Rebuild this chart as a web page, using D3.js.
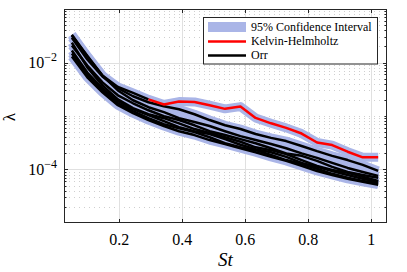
<!DOCTYPE html>
<html><head><meta charset="utf-8">
<script src="https://cdn.jsdelivr.net/npm/d3@7"></script>
<style>
html,body{margin:0;padding:0;background:#fff;}
svg{display:block;}
text{font-family:"Liberation Serif","DejaVu Serif",serif;fill:#000;}
</style></head>
<body><svg id="c" width="407" height="272"></svg>
<script>
// Strouhal numbers (x)
const St = [0.050,0.099,0.147,0.196,0.244,0.293,0.342,0.390,0.439,0.487,0.536,0.585,0.633,0.682,0.730,0.779,0.828,0.876,0.925,0.973,1.022];
// Kelvin-Helmholtz branch (black before index khRedStart, red from there on)
const khLambda = [3.18e-2,1.33e-2,5.7e-3,3.5e-3,2.7e-3,2.05e-3,1.64e-3,1.86e-3,1.83e-3,1.59e-3,1.36e-3,1.50e-3,9.2e-4,7.3e-4,6.0e-4,4.7e-4,3.2e-4,2.86e-4,2.15e-4,1.69e-4,1.69e-4];
const khRedStart = 5;
// Orr branches
const orr1 = [2.9e-2,1.14e-2,5.5e-3,3.3e-3,2.34e-3,1.81e-3,1.52e-3,1.34e-3,1.08e-3,8.4e-4,6.7e-4,5.7e-4,4.6e-4,3.9e-4,3.4e-4,2.75e-4,2.2e-4,1.8e-4,1.5e-4,1.22e-4,9.4e-5];
const orr2 = [3.31e-2,1.29e-2,5.7e-3,3.0e-3,1.97e-3,1.46e-3,1.18e-3,9.1e-4,7.7e-4,6.5e-4,5.2e-4,4.2e-4,3.55e-4,3.0e-4,2.5e-4,2.0e-4,1.65e-4,1.33e-4,1.07e-4,9.0e-5,7.6e-5];
const orr3 = [2.07e-2,8.8e-3,4.25e-3,2.44e-3,1.73e-3,1.28e-3,9.9e-4,8.4e-4,6.7e-4,5.2e-4,4.4e-4,3.7e-4,3.1e-4,2.5e-4,2.0e-4,1.8e-4,1.45e-4,1.12e-4,9.0e-5,7.9e-5,7.0e-5];
const orr4 = [2.35e-2,8.1e-3,3.74e-3,2.05e-3,1.40e-3,1.08e-3,9.1e-4,7.3e-4,5.7e-4,4.8e-4,4.0e-4,3.3e-4,2.6e-4,2.3e-4,1.95e-4,1.5e-4,1.17e-4,9.8e-5,8.7e-5,7.3e-5,6.1e-5];
const orr5 = [1.67e-2,6.5e-3,3.3e-3,1.89e-3,1.34e-3,1.04e-3,8.0e-4,6.2e-4,5.2e-4,4.6e-4,3.7e-4,2.9e-4,2.4e-4,2.1e-4,1.72e-4,1.33e-4,1.12e-4,9.4e-5,7.9e-5,6.7e-5,5.9e-5];
const orr6 = [1.47e-2,6.0e-3,3.0e-3,1.73e-3,1.23e-3,9.1e-4,7.0e-4,5.9e-4,5.0e-4,4.0e-4,3.1e-4,2.6e-4,2.3e-4,1.87e-4,1.5e-4,1.27e-4,1.03e-4,8.3e-5,7.0e-5,6.1e-5,5.6e-5];
const orr7 = [1.29e-2,5.3e-3,2.77e-3,1.59e-3,1.13e-3,8.4e-4,6.5e-4,5.2e-4,4.4e-4,3.55e-4,3.0e-4,2.5e-4,2.1e-4,1.72e-4,1.45e-4,1.17e-4,9.4e-5,7.9e-5,6.7e-5,5.9e-5,5.2e-5];
const orrSeries = [orr1,orr2,orr3,orr4,orr5,orr6,orr7];
// ticks
const xTicks = [0.2,0.4,0.6,0.8,1.0];
const xTickLabels = ["0.2","0.4","0.6","0.8","1"];
const yMajor = [1e-2,1e-4];
const yMajorExp = ["\u22122","\u22124"];
const legendLabels = ["95% Confidence Interval","Kelvin-Helmholtz","Orr"];

const L=64,R=387,T=9,B=223;
const svg=d3.select("#c");
const x=d3.scaleLinear().domain([0.025,1.05]).range([L,R]);
const y=d3.scaleLog().domain([1e-5,1e-1]).range([B,T]);

// minor y grid
const minor=[];
for(let e=-5;e<-1;e++){for(let m=1;m<10;m++){const v=m*Math.pow(10,e); if(!(m===1&&(e===-2||e===-4))&&v>1e-5) minor.push(v);}}
svg.append("g").selectAll("line").data(minor).join("line")
 .attr("x1",L).attr("x2",R).attr("y1",d=>Math.round(y(d))+0.5).attr("y2",d=>Math.round(y(d))+0.5)
 .attr("stroke","#cfcfcf").attr("stroke-width",1).attr("stroke-dasharray","1,4");
// major grid
svg.append("g").selectAll("line").data(xTicks).join("line")
 .attr("x1",d=>Math.round(x(d))+0.5).attr("x2",d=>Math.round(x(d))+0.5).attr("y1",T).attr("y2",B)
 .attr("stroke","#e0e0e0").attr("stroke-width",1);
svg.append("g").selectAll("line").data(yMajor).join("line")
 .attr("x1",L).attr("x2",R).attr("y1",d=>Math.round(y(d))+0.5).attr("y2",d=>Math.round(y(d))+0.5)
 .attr("stroke","#e0e0e0").attr("stroke-width",1);

const line=d3.line().x(d=>x(d[0])).y(d=>y(d[1]));
const pts=arr=>arr.map((v,i)=>[St[i],v]);
const bandColor="#aab5e7";
const allSeries=[...orrSeries,khLambda];
const gBand=svg.append("g");
allSeries.forEach(s=>gBand.append("path").attr("d",line(pts(s))).attr("fill","none")
 .attr("stroke",bandColor).attr("stroke-width",9).attr("stroke-linejoin","round").attr("stroke-linecap","butt"));
const gLine=svg.append("g");
orrSeries.forEach(s=>gLine.append("path").attr("d",line(pts(s))).attr("fill","none")
 .attr("stroke","#000").attr("stroke-width",2.5).attr("stroke-linejoin","round"));
gLine.append("path").attr("d",line(pts(khLambda).slice(0,khRedStart+1))).attr("fill","none")
 .attr("stroke","#000").attr("stroke-width",2.5).attr("stroke-linejoin","round");
gLine.append("path").attr("d",line(pts(khLambda).slice(khRedStart))).attr("fill","none")
 .attr("stroke","#ff0000").attr("stroke-width",2.5).attr("stroke-linejoin","round");

// box
const axC="#262626";
svg.append("rect").attr("x",L+0.5).attr("y",T+0.5).attr("width",R-L-1).attr("height",B-T-1)
 .attr("fill","none").attr("stroke",axC).attr("stroke-width",1);
// x ticks (bottom & top, inward)
const gx=svg.append("g");
xTicks.forEach(t=>{const px=Math.round(x(t))+0.5;
 gx.append("line").attr("x1",px).attr("x2",px).attr("y1",B).attr("y2",B-4).attr("stroke",axC);
 gx.append("line").attr("x1",px).attr("x2",px).attr("y1",T).attr("y2",T+4).attr("stroke",axC);});
gx.selectAll("text").data(xTicks).join("text").attr("x",d=>x(d)).attr("y",245)
 .attr("text-anchor","middle").attr("font-size",16).text((d,i)=>xTickLabels[i]);
// y ticks
const gy=svg.append("g");
yMajor.forEach(t=>{const py=Math.round(y(t))+0.5;
 gy.append("line").attr("x1",L).attr("x2",L+4).attr("y1",py).attr("y2",py).attr("stroke",axC);
 gy.append("line").attr("x1",R).attr("x2",R-4).attr("y1",py).attr("y2",py).attr("stroke",axC);});
minor.forEach(t=>{const py=Math.round(y(t))+0.5;
 gy.append("line").attr("x1",L).attr("x2",L+2.5).attr("y1",py).attr("y2",py).attr("stroke",axC);
 gy.append("line").attr("x1",R).attr("x2",R-2.5).attr("y1",py).attr("y2",py).attr("stroke",axC);});
yMajor.forEach((t,i)=>{
 const tx=gy.append("text").attr("x",57).attr("y",y(t)+5.5).attr("text-anchor","end").attr("font-size",16);
 tx.append("tspan").text("10");
 tx.append("tspan").attr("dy",-7).attr("font-size",12).text(yMajorExp[i]);
});
// axis labels
svg.append("text").attr("x",(L+R)/2).attr("y",266).attr("text-anchor","middle")
 .attr("font-size",19).attr("font-style","italic").text("St");
svg.append("text").attr("transform","translate(15,117) rotate(-90)").attr("text-anchor","middle")
 .attr("font-size",17).text("\u03bb");

// legend
const lg=svg.append("g");
lg.append("rect").attr("x",203.5).attr("y",17.5).attr("width",174).attr("height",46.5)
 .attr("fill","#fff").attr("stroke",axC).attr("stroke-width",1);
lg.append("rect").attr("x",208).attr("y",22).attr("width",38).attr("height",10).attr("fill",bandColor);
lg.append("line").attr("x1",208).attr("x2",246).attr("y1",41.5).attr("y2",41.5).attr("stroke","#ff0000").attr("stroke-width",2.5);
lg.append("line").attr("x1",208).attr("x2",246).attr("y1",55.5).attr("y2",55.5).attr("stroke","#000").attr("stroke-width",2.5);
lg.selectAll("text").data(legendLabels).join("text").attr("x",251).attr("y",(d,i)=>31+i*14)
 .attr("font-size",12).text(d=>d);
</script></body></html>
